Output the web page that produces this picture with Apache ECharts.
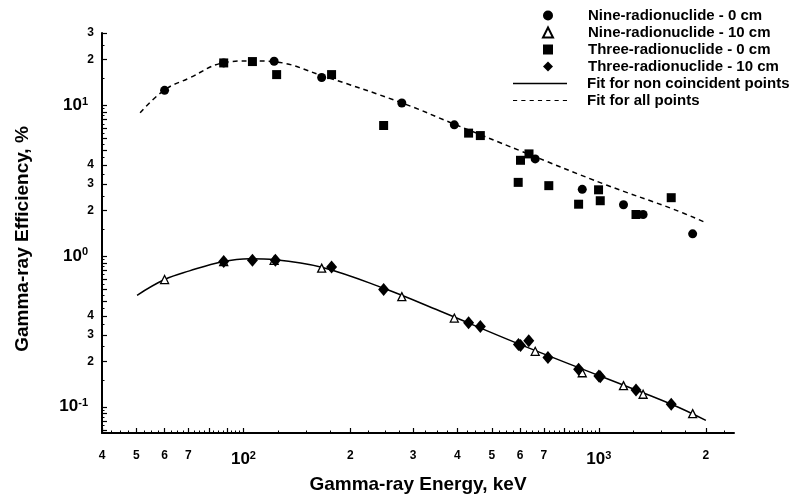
<!DOCTYPE html>
<html>
<head>
<meta charset="utf-8">
<script src="https://cdn.jsdelivr.net/npm/echarts@6/dist/echarts.min.js"></script>
<style>
html, body { margin: 0; padding: 0; background: #fff; }
#chart { width: 789px; height: 504px; }
</style>
</head>
<body>
<div id="chart"></div>
<script>
// gamma-ray energy (keV) and efficiency (%)
var nine0Energy = [60, 88, 122, 166, 279, 392, 662, 898, 1173, 1332, 1836];
var nine0Eff    = [12.5, 19.0, 19.5, 15.2, 10.3, 7.39, 4.39, 2.76, 2.18, 1.88, 1.40];

var nine10Energy = [60, 88, 122, 166, 279, 392, 662, 898, 1173, 1332, 1836];
var nine10Eff    = [0.697, 0.915, 0.935, 0.829, 0.537, 0.387, 0.233, 0.168, 0.138, 0.121, 0.090];

var three0Energy = [88, 106, 124, 177, 248, 430, 464, 593, 602, 636, 723, 877, 998, 1009, 1272, 1598];
var three0Eff    = [19.0, 19.4, 15.9, 15.9, 7.31, 6.51, 6.27, 3.07, 4.30, 4.74, 2.92, 2.20, 2.74, 2.32, 1.88, 2.43];

var three10Energy = [88, 106, 123, 177, 248, 430, 464, 594, 602, 635, 719, 877, 1000, 1009, 1272, 1598];
var three10Eff    = [0.918, 0.936, 0.936, 0.845, 0.598, 0.361, 0.340, 0.259, 0.255, 0.274, 0.212, 0.177, 0.160, 0.158, 0.129, 0.104];

// fitted curves, sampled along the drawn lines
var fitNcEnergy = [50.2, 60, 70.5, 87.3, 104, 123, 166, 248, 357, 590, 1000, 1600, 2000];
var fitNcEff    = [0.548, 0.697, 0.795, 0.915, 0.958, 0.944, 0.841, 0.61, 0.431, 0.263, 0.161, 0.104, 0.0813];

var fitAllEnergy = [51.2, 60, 70.5, 87.4, 104, 123, 167, 280, 390, 600, 1050, 1620, 2011];
var fitAllEff    = [8.87, 12.6, 15.1, 19.0, 19.6, 19.3, 15.6, 10.3, 7.5, 4.98, 2.95, 2.04, 1.65];

var xLabelTicks = [40, 50, 60, 70, 100, 200, 300, 400, 500, 600, 700, 1000, 2000];
var yLabelTicks = [0.1, 0.2, 0.3, 0.4, 1, 2, 3, 4, 10, 20, 30];

var xMin = 40, xMax = 2400, yMin = 0.067, yMax = 30;

var lg = function (v) { return Math.log10(v); };

function pairs(xs, ys) {
    return xs.map(function (x, i) { return [lg(x), lg(ys[i])]; });
}

// tick positions at m * 10^n between lo and hi
function logTicks(lo, hi, step) {
    var out = [];
    [0.01, 0.1, 1, 10, 100, 1000].forEach(function (d) {
        for (var m = 1; m < 10; m += step) {
            var v = m * d;
            if (v >= lo * 0.999 && v <= hi * 1.001) out.push(lg(v));
        }
    });
    return out;
}

function tickLabel(v) {
    var p = Math.floor(v + 1e-9);
    var m = Math.round(Math.pow(10, v - p));
    if (m === 1) return '{b|10}{s|' + p + '}';
    return '{d|' + m + '}';
}

var font = 'Liberation Sans, Arial, Helvetica, sans-serif';
var richX = {
    d: { fontSize: 12, fontWeight: 'bold', fontFamily: font, color: '#000' },
    b: { fontSize: 17, fontWeight: 'bold', fontFamily: font, color: '#000', lineHeight: 18 },
    s: { fontSize: 11, fontWeight: 'bold', fontFamily: font, color: '#000', lineHeight: 11, verticalAlign: 'top' }
};
var richY = {
    d: richX.d,
    b: richX.b,
    s: { fontSize: 11, fontWeight: 'bold', fontFamily: font, color: '#000', lineHeight: 11, verticalAlign: 'top', padding: [0, 6, 0, 0] }
};

// dashed strip used as the legend icon of the dashed fit
var dashIcon = 'path://M0,0h4v1h-4zM8,0h4v1h-4zM16,0h4v1h-4zM24,0h4v1h-4zM32,0h4v1h-4zM40,0h4v1h-4zM48,0h4v1h-4z';

var myChart = echarts.init(document.getElementById('chart'), null, { renderer: 'canvas' });

var legendText = function (pad) {
    return { fontFamily: font, fontWeight: 'bold', fontSize: 15, lineHeight: 15, color: '#000', padding: [0, 0, 0, pad] };
};

var option = {
    animation: false,
    backgroundColor: '#fff',
    grid: { left: 102, right: 55, top: 33, bottom: 71 },
    legend: [
        {
            orient: 'vertical', left: 542, top: 8, padding: 0,
            itemWidth: 10, itemHeight: 10, itemGap: 2,
            selectedMode: false,
            textStyle: legendText(30),
            data: ['Nine-radionuclide - 0 cm', 'Nine-radionuclide - 10 cm',
                   'Three-radionuclide - 0 cm', 'Three-radionuclide - 10 cm']
        },
        {
            orient: 'vertical', left: 513, top: 76, padding: 0,
            itemWidth: 54, itemHeight: 1.5, itemGap: 2,
            selectedMode: false,
            textStyle: legendText(15),
            data: [
                { name: 'Fit for non coincident points', icon: 'rect', itemStyle: { color: '#000', borderWidth: 0 } },
                { name: 'Fit for all points', icon: dashIcon, itemStyle: { color: '#000', borderWidth: 0 } }
            ]
        }
    ],
    xAxis: [
        {
            type: 'value', min: lg(xMin), max: lg(xMax), position: 'bottom',
            axisLine: { onZero: false, lineStyle: { color: '#000', width: 2 } },
            axisTick: { inside: true, length: 5, customValues: logTicks(xMin, xMax, 1), lineStyle: { color: '#000', width: 1.2 } },
            axisLabel: { customValues: xLabelTicks.map(lg), formatter: tickLabel, margin: 17, rich: richX, showMinLabel: true, showMaxLabel: true },
            splitLine: { show: false },
            name: 'Gamma-ray Energy, keV',
            nameLocation: 'middle',
            nameGap: 42,
            nameTextStyle: { fontFamily: font, fontWeight: 'bold', fontSize: 19, color: '#000' }
        },
        {
            type: 'value', min: lg(xMin), max: lg(xMax), position: 'bottom',
            axisLine: { show: false, onZero: false },
            axisTick: { inside: true, length: 2.5, customValues: logTicks(xMin, xMax, 0.25), lineStyle: { color: '#000', width: 1 } },
            axisLabel: { show: false },
            splitLine: { show: false }
        }
    ],
    yAxis: [
        {
            type: 'value', min: lg(yMin), max: lg(yMax), position: 'left',
            axisLine: { show: true, onZero: false, lineStyle: { color: '#000', width: 2 } },
            axisTick: { show: true, inside: true, length: 5, customValues: logTicks(yMin, yMax, 1), lineStyle: { color: '#000', width: 1.2 } },
            axisLabel: { customValues: yLabelTicks.map(lg), formatter: tickLabel, margin: 8, rich: richY, showMinLabel: true, showMaxLabel: true },
            splitLine: { show: false },
            name: 'Gamma-ray Efficiency, %',
            nameLocation: 'middle',
            nameRotate: 90,
            nameGap: 70,
            nameTextStyle: { fontFamily: font, fontWeight: 'bold', fontSize: 19, color: '#000', padding: [0, 12, 0, 0] }
        },
        {
            type: 'value', min: lg(yMin), max: lg(yMax), position: 'left',
            axisLine: { show: false, onZero: false },
            axisTick: { show: true, inside: true, length: 2.5, customValues: logTicks(yMin, yMax, 0.5), lineStyle: { color: '#000', width: 1 } },
            axisLabel: { show: false },
            splitLine: { show: false }
        }
    ],
    series: [
        {
            name: 'Fit for non coincident points', type: 'line', data: pairs(fitNcEnergy, fitNcEff),
            symbol: 'none', smooth: 0.4, silent: true,
            lineStyle: { color: '#000', width: 1.5 }, itemStyle: { color: '#000' }, z: 1
        },
        {
            name: 'Fit for all points', type: 'line', data: pairs(fitAllEnergy, fitAllEff),
            symbol: 'none', smooth: 0.4, silent: true,
            lineStyle: { color: '#000', width: 1.5, type: [5, 4] }, itemStyle: { color: '#000' }, z: 1
        },
        {
            name: 'Nine-radionuclide - 10 cm', type: 'scatter', data: pairs(nine10Energy, nine10Eff),
            symbol: 'triangle', symbolSize: 8, silent: true,
            itemStyle: { color: '#fff', borderColor: '#000', borderWidth: 1.3, opacity: 1 }, z: 2
        },
        {
            name: 'Three-radionuclide - 10 cm', type: 'scatter', data: pairs(three10Energy, three10Eff),
            symbol: 'diamond', symbolSize: [11, 13], silent: true,
            itemStyle: { color: '#000', opacity: 1 }, z: 3
        },
        {
            name: 'Three-radionuclide - 0 cm', type: 'scatter', data: pairs(three0Energy, three0Eff),
            symbol: 'rect', symbolSize: 9, silent: true,
            itemStyle: { color: '#000', opacity: 1 }, z: 3
        },
        {
            name: 'Nine-radionuclide - 0 cm', type: 'scatter', data: pairs(nine0Energy, nine0Eff),
            symbol: 'circle', symbolSize: 9, silent: true,
            itemStyle: { color: '#000', opacity: 1 }, z: 4
        }
    ]
};

myChart.setOption(option);
</script>
</body>
</html>
